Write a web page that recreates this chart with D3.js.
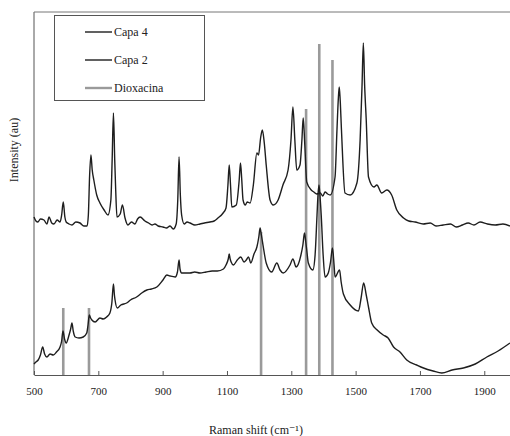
<!DOCTYPE html>
<html>
<head>
<meta charset="utf-8">
<script src="https://cdn.jsdelivr.net/npm/d3@7"></script>
<style>
  body { margin: 0; background: #fff; }
  text { font-family: "Liberation Serif", "DejaVu Serif", serif; fill: #222; }
</style>
</head>
<body>
<script>
// raman spectra, values (intensity in arbitrary units)
var capa4_x = [500,506,512,520,531,540,547,555,562,572,581,586,591,596,600,609,618,630,643,655,665,669,673,677,681,686,695,705,718,730,739,743,747,751,754,758,768,775,783,792,803,814,822,830,845,856,867,876,886,901,912,923,933,942,947,951,955,959,967,976,985,1000,1016,1030,1047,1060,1072,1088,1097,1103,1107,1111,1115,1129,1138,1142,1146,1150,1157,1163,1172,1182,1193,1198,1205,1210,1216,1222,1234,1244,1259,1274,1290,1299,1305,1311,1317,1327,1333,1337,1342,1348,1362,1370,1379,1390,1398,1405,1413,1421,1436,1442,1446,1449,1452,1456,1467,1483,1504,1514,1520,1524,1528,1533,1540,1557,1566,1581,1597,1612,1628,1649,1665,1685,1710,1732,1750,1772,1795,1813,1832,1850,1868,1887,1910,1934,1958,1980];
var capa4_y = [158,154,153,156,155,151,158,152,151,155,153,160,173,158,153,151,150,153,152,149,149,160,200,220,205,195,180,172,165,160,175,215,262,215,185,158,161,170,157,150,153,151,156,158,154,152,150,151,149,148,147,149,146,151,175,218,180,160,151,153,152,150,151,152,153,154,157,162,167,190,210,190,168,170,195,212,195,175,170,173,172,190,222,220,238,245,232,210,175,170,175,190,205,235,268,235,205,210,235,257,230,193,185,183,181,182,179,183,181,180,198,245,275,288,275,245,182,180,192,235,290,332,290,255,198,188,190,182,185,180,165,157,154,153,151,152,149,150,151,148,150,152,150,153,151,150,151,149];

var capa2_x = [500,506,513,520,527,533,540,550,560,570,581,586,590,595,600,609,614,618,622,628,640,653,664,668,672,676,680,690,705,715,726,736,742,747,750,752,759,770,788,800,819,835,851,865,882,901,913,923,939,946,951,954,959,970,985,1000,1016,1035,1054,1070,1089,1097,1104,1107,1110,1113,1120,1132,1143,1153,1160,1167,1174,1184,1193,1199,1203,1207,1212,1222,1239,1255,1265,1275,1296,1305,1315,1330,1336,1341,1345,1348,1353,1367,1374,1380,1383,1386,1389,1393,1399,1405,1415,1422,1428,1433,1436,1450,1455,1462,1483,1509,1517,1525,1533,1540,1550,1567,1586,1601,1618,1638,1659,1690,1711,1741,1768,1800,1835,1872,1908,1943,1980];
var capa2_y = [11,13,15,20,28,21,18,21,20,23,28,34,44,36,32,40,46,52,44,38,37,38,42,50,60,57,55,53,57,56,58,62,72,91,80,75,67,70,72,75,78,82,85,86,88,95,100,99,98,103,115,106,102,102,102,103,102,103,104,104,106,110,116,121,116,113,110,115,118,113,115,118,112,121,128,138,147,140,130,112,103,112,105,102,110,116,108,120,130,142,133,125,112,105,120,160,180,190,180,160,120,98,102,113,127,110,98,105,93,81,70,64,77,92,80,68,52,45,40,37,28,23,15,10,7,4,2,5,7,11,18,24,32];

var diox_x = [591,671,1206,1346,1387,1428];
var diox_y = [67,67,143,266,331,315];

var xTicks = [500,700,900,1100,1300,1500,1700,1900];
var legendNames = ["Capa 4","Capa 2","Dioxacina"];

var W = 510, H = 436;
var m = {left: 34, top: 12, right: 0, bottom: 61};

var svg = d3.select("body").append("svg")
  .attr("width", W)
  .attr("height", H);

var x = d3.scaleLinear().domain([500, 1980]).range([m.left, W - m.right]);
var y = d3.scaleLinear().domain([0, 363]).range([H - m.bottom, m.top]);

// frame: left, top, bottom
svg.append("line")
  .attr("x1", m.left).attr("x2", m.left)
  .attr("y1", m.top).attr("y2", H - m.bottom)
  .attr("stroke", "#555").attr("stroke-width", 1);
svg.append("line")
  .attr("x1", m.left).attr("x2", W)
  .attr("y1", m.top).attr("y2", m.top)
  .attr("stroke", "#777").attr("stroke-width", 1);

var xAxis = svg.append("g")
  .attr("transform", "translate(0," + (H - m.bottom) + ")")
  .call(d3.axisBottom(x).tickValues(xTicks).tickFormat(d3.format("d"))
    .tickSizeInner(-4).tickSizeOuter(0).tickPadding(12));
xAxis.select(".domain").attr("stroke", "#555");
xAxis.selectAll(".tick line").attr("stroke", "#555");
xAxis.selectAll(".tick text")
  .style("font-family", "'Liberation Serif', serif")
  .style("font-size", "11px")
  .attr("fill", "#222");

// dioxacina reference bars
svg.selectAll("line.diox")
  .data(diox_x)
  .enter().append("line")
  .attr("class", "diox")
  .attr("x1", d => x(d)).attr("x2", d => x(d))
  .attr("y1", y(0))
  .attr("y2", (d, i) => y(diox_y[i]))
  .attr("stroke", "#9a9a9a")
  .attr("stroke-width", 2.6);

var line = d3.line()
  .curve(d3.curveMonotoneX)
  .x(d => x(d[0]))
  .y(d => y(d[1]));

svg.append("path")
  .datum(d3.zip(capa4_x, capa4_y))
  .attr("d", line)
  .attr("fill", "none")
  .attr("stroke", "#1e1e1e")
  .attr("stroke-width", 1.4)
  .attr("stroke-linejoin", "round");

svg.append("path")
  .datum(d3.zip(capa2_x, capa2_y))
  .attr("d", line)
  .attr("fill", "none")
  .attr("stroke", "#1e1e1e")
  .attr("stroke-width", 1.4)
  .attr("stroke-linejoin", "round");

// legend
var lg = svg.append("g");
lg.append("rect")
  .attr("x", 54.5).attr("y", 15.5)
  .attr("width", 150).attr("height", 85)
  .attr("fill", "#fff")
  .attr("stroke", "#555");
var legendColors = ["#1e1e1e", "#1e1e1e", "#9a9a9a"];
legendNames.forEach(function (name, i) {
  var ly = 32 + i * 28;
  lg.append("line")
    .attr("x1", 85).attr("x2", 112)
    .attr("y1", ly).attr("y2", ly)
    .attr("stroke", legendColors[i])
    .attr("stroke-width", i == 2 ? 2.4 : 1.4);
  lg.append("text")
    .attr("x", 114).attr("y", ly + 4)
    .style("font-size", "12px")
    .text(name);
});

// axis titles
svg.append("text")
  .attr("x", 256).attr("y", 434)
  .attr("text-anchor", "middle")
  .style("font-size", "12px")
  .text("Raman shift (cm\u207B\u00B9)");

svg.append("text")
  .attr("transform", "translate(18,150) rotate(-90)")
  .attr("text-anchor", "middle")
  .style("font-size", "12px")
  .text("Intensity (au)");
</script>
</body>
</html>
